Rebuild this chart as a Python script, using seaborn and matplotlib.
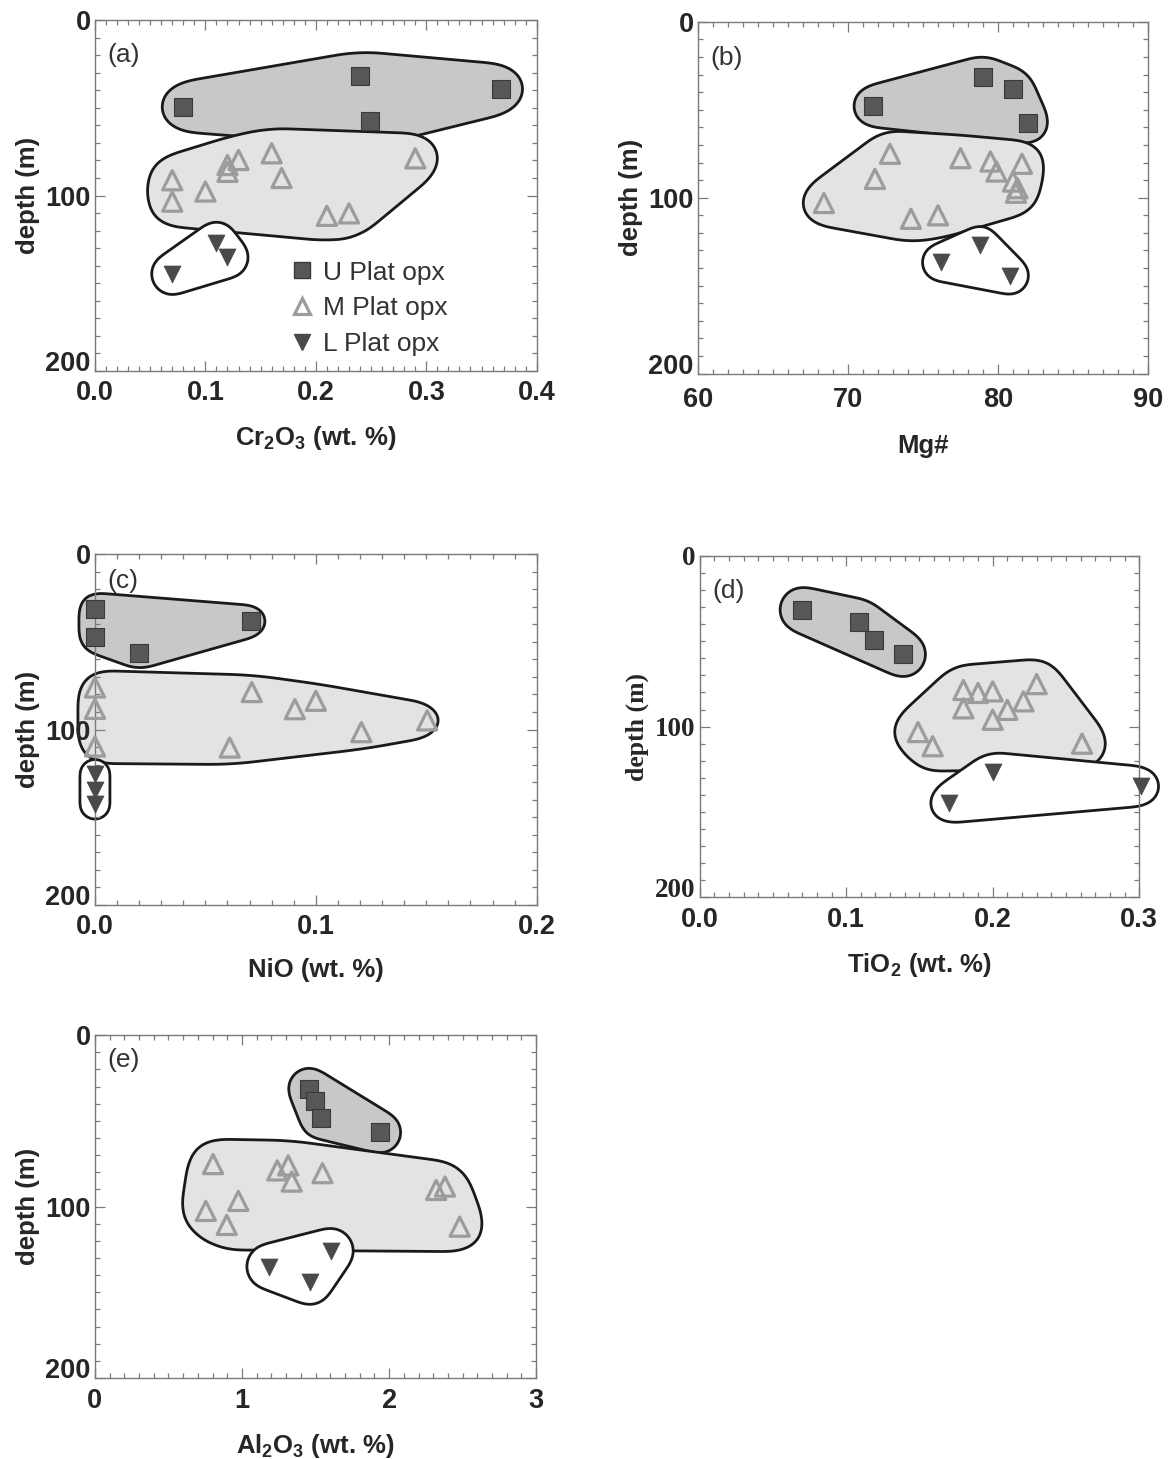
import numpy as np
import pandas as pd
import matplotlib
matplotlib.use("Agg")
import matplotlib.pyplot as plt
import seaborn as sns
from matplotlib.patches import Polygon
from matplotlib.lines import Line2D
from matplotlib.ticker import MultipleLocator

sns.set_theme(style="white")
plt.rcParams["font.family"] = ["Liberation Sans", "DejaVu Sans"]
plt.rcParams["mathtext.fontset"] = "custom"
plt.rcParams["mathtext.rm"] = "Liberation Sans:bold"
plt.rcParams["mathtext.bf"] = "Liberation Sans:bold"
plt.rcParams["mathtext.default"] = "bf"

# ---------------- data ----------------
groups = ["U Plat opx", "M Plat opx", "L Plat opx"]

# (a) Cr2O3
cr_u_x = [0.080, 0.240, 0.249, 0.368]
cr_u_y = [49.4, 32.0, 57.7, 39.2]
cr_m_x = [0.070, 0.070, 0.100, 0.120, 0.120, 0.130, 0.160, 0.169, 0.210, 0.230, 0.290]
cr_m_y = [91.3, 103.5, 97.7, 82.6, 86.5, 79.7, 75.9, 90.0, 111.6, 110.2, 78.8]
cr_l_x = [0.070, 0.110, 0.120]
cr_l_y = [144.8, 127.0, 135.3]

# (b) Mg#
mg_u_x = [71.7, 79.0, 81.0, 82.0]
mg_u_y = [47.9, 31.3, 38.0, 57.4]
mg_m_x = [68.4, 71.8, 72.8, 77.5, 79.5, 79.9, 81.6, 81.0, 81.3, 81.2, 74.2, 76.0]
mg_m_y = [103.0, 89.3, 75.0, 77.5, 79.4, 85.1, 80.7, 90.8, 94.6, 97.2, 112.0, 110.0]
mg_l_x = [76.2, 78.8, 80.8]
mg_l_y = [136.8, 126.9, 144.3]

# (c) NiO
ni_u_x = [0.0, 0.0, 0.020, 0.0706]
ni_u_y = [31.1, 47.3, 56.3, 38.2]
ni_m_x = [0.0, 0.0, 0.0, 0.061, 0.071, 0.0905, 0.100, 0.1206, 0.1504]
ni_m_y = [76.0, 88.2, 109.7, 110.3, 78.6, 88.4, 83.6, 101.5, 94.8]
ni_l_x = [0.0, 0.0, 0.0]
ni_l_y = [125.6, 134.5, 142.7]

# (d) TiO2
ti_u_x = [0.070, 0.109, 0.119, 0.139]
ti_u_y = [31.6, 38.7, 49.0, 57.7]
ti_m_x = [0.149, 0.159, 0.180, 0.180, 0.190, 0.200, 0.200, 0.210, 0.221, 0.230, 0.261]
ti_m_y = [103.2, 111.5, 78.6, 89.3, 80.3, 79.4, 96.0, 90.2, 85.2, 75.1, 110.0]
ti_l_x = [0.170, 0.200, 0.301]
ti_l_y = [144.8, 126.8, 135.0]

# (e) Al2O3
al_u_x = [1.456, 1.493, 1.535, 1.940]
al_u_y = [31.2, 38.6, 48.3, 56.7]
al_m_x = [0.803, 1.240, 1.314, 1.338, 1.547, 0.754, 0.975, 0.896, 2.320, 2.380, 2.480]
al_m_y = [75.2, 78.9, 76.0, 85.4, 80.5, 102.5, 96.7, 110.7, 90.3, 88.3, 111.7]
al_l_x = [1.186, 1.461, 1.603]
al_l_y = [135.0, 143.9, 125.9]

panel_letters = ["(a)", "(b)", "(c)", "(d)", "(e)"]
x_labels = [r"Cr$_2$O$_3$ (wt. %)", "Mg#", "NiO (wt. %)", r"TiO$_2$ (wt. %)", r"Al$_2$O$_3$ (wt. %)"]

# ---------------- style ----------------
TXT = "#262626"
SPINE = "#7a7a7a"
sq_color = "#575757"
tri_edge = "#9c9c9c"
dn_color = "#4a4a4a"
fill_u = "#c8c8c8"
fill_m = "#e3e3e3"
fill_l = "#ffffff"


def frame(xs, ys):
    return pd.DataFrame({"x": xs, "y": ys})


def convex_hull(points):
    pts = sorted(set(map(tuple, np.round(points, 6))))
    if len(pts) < 3:
        return np.array(pts)

    def cross(o, a, b):
        return (a[0] - o[0]) * (b[1] - o[1]) - (a[1] - o[1]) * (b[0] - o[0])

    lower, upper = [], []
    for p in pts:
        while len(lower) >= 2 and cross(lower[-2], lower[-1], p) <= 0:
            lower.pop()
        lower.append(p)
    for p in reversed(pts):
        while len(upper) >= 2 and cross(upper[-2], upper[-1], p) <= 0:
            upper.pop()
        upper.append(p)
    return np.array(lower[:-1] + upper[:-1])


def inflate(pix, r, n=90):
    t = np.linspace(0, 2 * np.pi, n, endpoint=False)
    circ = np.c_[np.cos(t), np.sin(t)] * r
    cloud = (pix[:, None, :] + circ[None, :, :]).reshape(-1, 2)
    return convex_hull(cloud)


def resample(poly, n=400):
    closed = np.vstack([poly, poly[:1]])
    seg = np.hypot(*np.diff(closed, axis=0).T)
    s = np.r_[0, np.cumsum(seg)]
    u = np.linspace(0, s[-1], n, endpoint=False)
    return np.c_[np.interp(u, s, closed[:, 0]), np.interp(u, s, closed[:, 1])]


def envelope(ax, xs, ys, face, r=20):
    pix = ax.transData.transform(np.c_[xs, ys])
    h = inflate(pix, r)
    h = resample(h, 400)
    k = 24
    kern = np.ones(k) / k
    sm = np.c_[
        np.convolve(np.r_[h[-k:, 0], h[:, 0], h[:k, 0]], kern, mode="same")[k:-k],
        np.convolve(np.r_[h[-k:, 1], h[:, 1], h[:k, 1]], kern, mode="same")[k:-k],
    ]
    sm = inflate(sm, 3, n=24)
    dat = ax.transData.inverted().transform(sm)
    poly = Polygon(dat, closed=True, facecolor=face, edgecolor="#1a1a1a",
                   linewidth=2.0, zorder=1, clip_on=False)
    ax.add_patch(poly)


fig = plt.figure(figsize=(11.72, 14.59), dpi=100)
fig.patch.set_facecolor("white")

positions = [
    [0.081, 0.746, 0.377, 0.240],
    [0.5955, 0.744, 0.384, 0.241],
    [0.081, 0.380, 0.377, 0.240],
    [0.597, 0.385, 0.375, 0.234],
    [0.081, 0.0555, 0.3765, 0.235],
]
xlims = [(0, 0.4), (60, 90), (0, 0.2), (0, 0.3), (0, 3)]
xmajor = [0.1, 10, 0.1, 0.1, 1]
xminor = [0.01, 1, 0.01, 0.01, 0.1]
xfmt = ["{:.1f}", "{:.0f}", "{:.1f}", "{:.1f}", "{:.0f}"]
radii = [(22, 22, 18), (18, 20, 16), (13, 14, 12), (20, 22, 17), (18, 22, 20)]
xlabpad = [13, 15, 13, 13, 13]
letter_y = [0.90, 0.897, 0.925, 0.898, 0.927]

data = [
    (cr_u_x, cr_u_y, cr_m_x, cr_m_y, cr_l_x, cr_l_y),
    (mg_u_x, mg_u_y, mg_m_x, mg_m_y, mg_l_x, mg_l_y),
    (ni_u_x, ni_u_y, ni_m_x, ni_m_y, ni_l_x, ni_l_y),
    (ti_u_x, ti_u_y, ti_m_x, ti_m_y, ti_l_x, ti_l_y),
    (al_u_x, al_u_y, al_m_x, al_m_y, al_l_x, al_l_y),
]

for i, (pos, d) in enumerate(zip(positions, data)):
    ax = fig.add_axes(pos)
    ax.set_facecolor("white")
    ax.set_axisbelow(False)
    ax.set_xlim(*xlims[i])
    ax.set_ylim(200, 0)
    ux, uy, mx, my, lx, ly = d
    ru, rm, rl = radii[i]

    envelope(ax, ux, uy, fill_u, r=ru)
    envelope(ax, mx, my, fill_m, r=rm)
    envelope(ax, lx, ly, fill_l, r=rl)

    sns.scatterplot(data=frame(ux, uy), x="x", y="y", ax=ax, marker="s", s=150,
                    color=sq_color, edgecolor="#3a3a3a", linewidth=0.8, zorder=4,
                    clip_on=False, legend=False)
    sns.scatterplot(data=frame(mx, my), x="x", y="y", ax=ax, marker="^", s=190,
                    color=tri_edge, linewidth=2.3, zorder=4, clip_on=False, legend=False)
    coll = ax.collections[-1]
    coll.set_facecolor("none")
    coll.set_edgecolor(tri_edge)
    sns.scatterplot(data=frame(lx, ly), x="x", y="y", ax=ax, marker="v", s=150,
                    color=dn_color, edgecolor=dn_color, linewidth=0.5, zorder=4,
                    clip_on=False, legend=False)

    serif = (i == 3)
    yfam = ["Liberation Serif"] if serif else ["Liberation Sans"]

    ticks = np.arange(xlims[i][0], xlims[i][1] + xmajor[i] / 2, xmajor[i])
    ax.set_xticks(ticks)
    ax.set_xticklabels([xfmt[i].format(v) for v in ticks], fontsize=19.5,
                       fontweight="bold", color=TXT)
    ax.xaxis.set_minor_locator(MultipleLocator(xminor[i]))
    ax.set_yticks([0, 100, 200])
    ylabs = ax.set_yticklabels(["0", "100", "200"], fontsize=19.5, fontweight="bold",
                               color=TXT, family=yfam)
    ylabs[2].set_verticalalignment("baseline")
    ax.yaxis.set_minor_locator(MultipleLocator(10))
    ax.set_xlim(*xlims[i])
    ax.set_ylim(200, 0)

    ax.tick_params(which="both", direction="in", top=True, right=True,
                   bottom=True, left=True, color=SPINE, width=0.9)
    ax.tick_params(which="major", length=7)
    ax.tick_params(axis="x", which="major", pad=7 if i != 1 else 10)
    ax.tick_params(axis="y", which="major", pad=3)
    ax.tick_params(which="minor", length=3.5)
    for sp in ax.spines.values():
        sp.set_color(SPINE)
        sp.set_linewidth(1.0)

    ax.set_xlabel(x_labels[i], fontsize=18.5, fontweight="bold", color=TXT,
                  labelpad=xlabpad[i])
    ax.set_ylabel("depth (m)", fontsize=18.5, fontweight="bold", color=TXT, labelpad=4,
                  family=yfam)
    ax.text(0.028, letter_y[i], panel_letters[i], transform=ax.transAxes, fontsize=19,
            color="#333333", ha="left", va="center", zorder=5)

    if i == 0:
        handles = [
            Line2D([], [], marker="s", ls="none", markersize=11, color=sq_color,
                   markeredgecolor="#3a3a3a"),
            Line2D([], [], marker="^", ls="none", markersize=12, markerfacecolor="none",
                   markeredgecolor=tri_edge, markeredgewidth=2.3),
            Line2D([], [], marker="v", ls="none", markersize=11, color=dn_color),
        ]
        leg = ax.legend(handles, groups, loc="lower left", bbox_to_anchor=(0.40, -0.012),
                        frameon=False, fontsize=19, handlelength=0.9, handletextpad=0.35,
                        labelspacing=0.45, borderpad=0.2)
        for t in leg.get_texts():
            t.set_color("#333333")

fig.savefig("out.png", dpi=100, facecolor="white")
